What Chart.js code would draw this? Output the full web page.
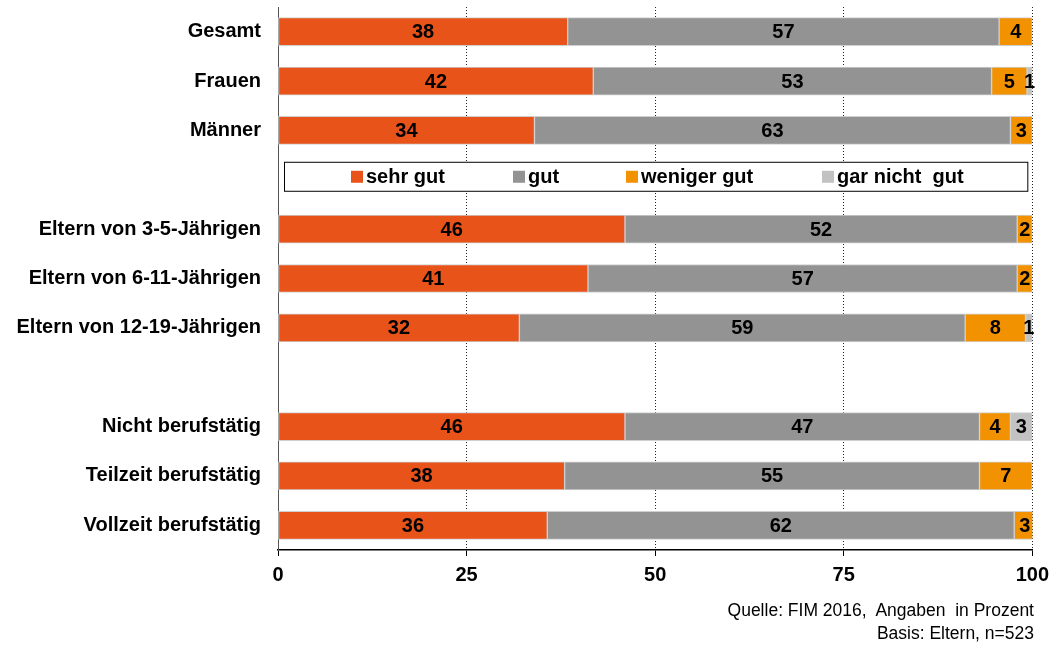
<!DOCTYPE html>
<html lang="de">
<head>
<meta charset="utf-8">
<title>FIM 2016</title>
<script src="https://cdn.jsdelivr.net/npm/chart.js@4"></script>
<style>
  html, body { margin: 0; padding: 0; background: #fff; }
  #wrap { position: relative; width: 1056px; height: 646px; }
  #note {
    position: absolute; right: 22px; top: 599px;
    font: 17.5px "Liberation Sans", Arial, sans-serif; color: #000;
    text-align: right; line-height: 23px;
  }
</style>
</head>
<body>
<div id="wrap">
  <canvas id="chart" width="1056" height="646"></canvas>
  <div id="note">Quelle: FIM 2016,&nbsp; Angaben&nbsp; in Prozent<br>Basis: Eltern, n=523</div>
</div>
<script>
// rows (empty strings are the gaps: legend row and spacer)
const categories = [
  'Gesamt', 'Frauen', 'Männer', '',
  'Eltern von 3-5-Jährigen', 'Eltern von 6-11-Jährigen', 'Eltern von 12-19-Jährigen', ' ',
  'Nicht berufstätig', 'Teilzeit berufstätig', 'Vollzeit berufstätig'
];

const seriesNames = ['sehr gut', 'gut', 'weniger gut', 'gar nicht  gut'];
const seriesColors = ['#E8531A', '#939393', '#F39200', '#C2C2C2'];

// values (labels show rounded numbers)
const sehrGut     = [38.4, 41.8, 34.0, null, 46.0, 41.1, 32.0, null, 46.0, 38.0, 35.7];
const gut         = [57.2, 52.8, 63.1, null, 52.0, 56.9, 59.1, null, 47.0, 55.0, 61.9];
const wenigerGut  = [4.4,  4.7,  2.9,  null, 2.0,  2.0,  8.0,  null, 4.1,  7.0,  2.8];
const garNichtGut = [0,    0.7,  0,    null, 0,    0,    0.9,  null, 2.9,  0,    0];

const xTicks = [0, 25, 50, 75, 100];

const FONT = '"Liberation Sans", Arial, sans-serif';

/**
 * Numbers in the middle of each segment
 */
const segmentLabels = {
  id: 'segmentLabels',
  afterDatasetsDraw(chart) {
    const ctx = chart.ctx;
    ctx.save();
    ctx.font = 'bold 20px ' + FONT;
    ctx.fillStyle = '#000';
    ctx.textAlign = 'center';
    ctx.textBaseline = 'middle';
    chart.data.datasets.forEach((ds, i) => {
      chart.getDatasetMeta(i).data.forEach((bar, j) => {
        const v = ds.data[j];
        if (v == null || Math.round(v) === 0) return;
        ctx.fillText(String(Math.round(v)), (bar.x + bar.base) / 2, bar.y + 1);
      });
    });
    ctx.restore();
  }
};

/**
 * Boxed legend drawn in the empty row
 */
const rowLegend = {
  id: 'rowLegend',
  afterDraw(chart) {
    const ctx = chart.ctx;
    const area = chart.chartArea;
    const cy = chart.scales.y.getPixelForValue(3) - 3;
    ctx.save();
    ctx.fillStyle = '#fff';
    ctx.fillRect(area.left + 6, cy - 14.5, area.right - area.left - 11, 29);
    ctx.strokeStyle = '#000';
    ctx.lineWidth = 1;
    ctx.strokeRect(area.left + 6.5, cy - 14.5, area.right - area.left - 11, 29);
    const itemX = [351, 513, 626, 822];
    ctx.font = 'bold 20px ' + FONT;
    ctx.textBaseline = 'middle';
    ctx.textAlign = 'left';
    seriesNames.forEach((name, i) => {
      ctx.fillStyle = seriesColors[i];
      ctx.fillRect(itemX[i], cy - 6, 12, 12);
      ctx.fillStyle = '#000';
      ctx.fillText(name, itemX[i] + 15, cy + 1);
    });
    ctx.restore();
  }
};

const datasets = [sehrGut, gut, wenigerGut, garNichtGut].map((values, i) => ({
  label: seriesNames[i],
  data: values,
  backgroundColor: seriesColors[i],
  borderColor: '#cfcfcf',
  borderWidth: 1,
  borderSkipped: false,
  barThickness: 28,
}));

new Chart(document.getElementById('chart'), {
  type: 'bar',
  data: { labels: categories, datasets },
  plugins: [segmentLabels, rowLegend],
  options: {
    indexAxis: 'y',
    responsive: false,
    animation: false,
    layout: { padding: { left: 0, right: 22, top: 7, bottom: 52 } },
    plugins: {
      legend: { display: false },
      tooltip: { enabled: false },
    },
    scales: {
      x: {
        stacked: true,
        min: 0,
        max: 100,
        afterBuildTicks(scale) {
          scale.ticks = xTicks.map(v => ({ value: v }));
        },
        ticks: {
          color: '#000',
          font: { family: FONT, size: 20, weight: 'bold' },
          padding: 7,
          maxRotation: 0,
        },
        grid: {
          color: ctx => (ctx.tick && ctx.tick.value === 0 ? 'rgba(0,0,0,0)' : '#222'),
          lineWidth: 1,
          tickColor: '#000',
          tickBorderDash: [],
          tickLength: 6,
          drawOnChartArea: true,
        },
        // dash here styles the grid lines in v4
        border: { display: true, color: '#000', width: 1.5, dash: [1, 2] },
      },
      y: {
        stacked: true,
        afterFit(scale) {
          scale.width = 278;
          scale.paddingTop = 0;
          scale.paddingBottom = 0;
        },
        ticks: {
          color: '#000',
          font: { family: FONT, size: 20, weight: 'bold' },
          padding: 17,
        },
        grid: { display: false, drawTicks: false },
        border: { display: true, color: '#555', width: 1 },
      },
    },
  },
});
</script>
</body>
</html>
